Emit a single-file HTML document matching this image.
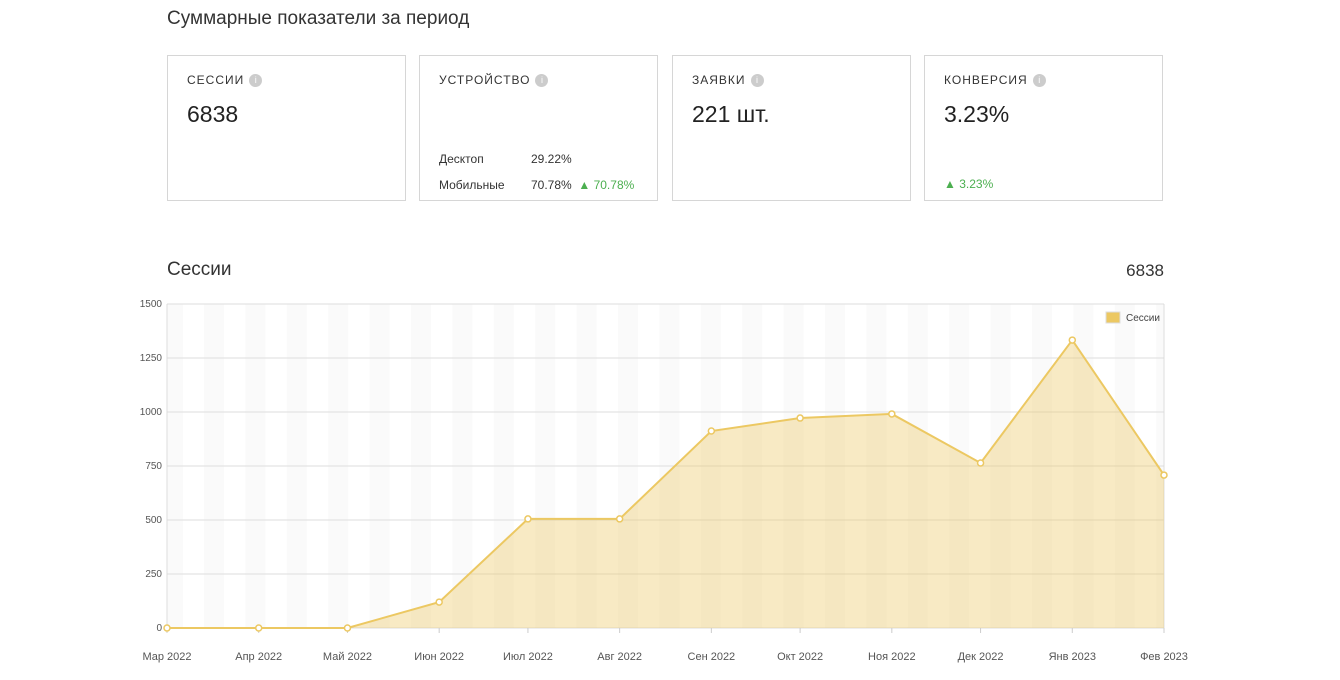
<!DOCTYPE html>
<html><head><meta charset="utf-8"><style>
body{margin:0;width:1340px;height:680px;background:#fff;font-family:"Liberation Sans",sans-serif;color:#222;position:relative;overflow:hidden}
.abs{position:absolute}
.card{position:absolute;top:55px;width:239px;height:146px;border:1px solid #d6d6d6;box-sizing:border-box}
.lbl{position:absolute;left:19px;top:17px;font-size:12px;letter-spacing:1px;color:#333}
.info{display:inline-block;width:13px;height:13px;border-radius:50%;background:#ccc;color:#fff;font-size:9px;text-align:center;line-height:13px;margin-left:5px;vertical-align:1px;letter-spacing:0}
.val{position:absolute;left:19px;top:45px;font-size:23px;color:#222}
.row{position:absolute;left:19px;font-size:12px;color:#333}
.green{color:#4caf50}
</style></head><body>
<div class="abs" style="left:167px;top:8px;font-size:19px;color:#333">Суммарные показатели за период</div>
<div class="card" style="left:167px"><div class="lbl">СЕССИИ<span class="info">i</span></div><div class="val">6838</div></div>
<div class="card" style="left:419px"><div class="lbl">УСТРОЙСТВО<span class="info">i</span></div>
<div class="row" style="top:96px">Десктоп</div><div class="row" style="top:96px;left:111px">29.22%</div>
<div class="row" style="top:122px">Мобильные</div><div class="row" style="top:122px;left:111px">70.78% &nbsp;<span class="green">▲ 70.78%</span></div></div>
<div class="card" style="left:672px"><div class="lbl">ЗАЯВКИ<span class="info">i</span></div><div class="val">221 шт.</div></div>
<div class="card" style="left:924px"><div class="lbl">КОНВЕРСИЯ<span class="info">i</span></div><div class="val">3.23%</div><div class="row green" style="top:121px">▲ 3.23%</div></div>
<div class="abs" style="left:167px;top:259px;font-size:19px;color:#333">Сессии</div>
<div class="abs" style="left:1100px;width:64px;text-align:right;top:261px;font-size:17px;color:#333">6838</div>
<svg id="chart" class="abs" style="left:0;top:0" width="1340" height="680"></svg>
<script>
const categories=["Мар 2022","Апр 2022","Май 2022","Июн 2022","Июл 2022","Авг 2022","Сен 2022","Окт 2022","Ноя 2022","Дек 2022","Янв 2023","Фев 2023"];
const dates=["2022-03-01","2022-04-01","2022-05-01","2022-06-01","2022-07-01","2022-08-01","2022-09-01","2022-10-01","2022-11-01","2022-12-01","2023-01-01","2023-02-01"];
const sessions=[0,0,0,120,505,505,912,972,991,764,1333,708];
const yTicks=[0,250,500,750,1000,1250,1500];
const svg=document.getElementById('chart');const NS='http://www.w3.org/2000/svg';
const L=167,R=1164,T=304,B=628,yMax=1500;
const t0=Date.parse(dates[0]),t1=Date.parse(dates[dates.length-1]);
const x=d=>L+(Date.parse(d)-t0)/(t1-t0)*(R-L);
const y=v=>B-v/yMax*(B-T);
function mk(tag,a,name,txt){const e=document.createElementNS(NS,tag);for(const k in a)e.setAttribute(k,a[k]);


if(txt!==undefined)e.textContent=txt;svg.appendChild(e);return e;}
mk('rect',{x:L,y:T,width:16,height:B-T,fill:'#fafafa'},'bg-stripe');
for(let s=204;s<R;s+=41.4)mk('rect',{x:s,y:T,width:Math.min(20,R-s),height:B-T,fill:'#fafafa'},'bg-stripe');
yTicks.forEach(v=>{mk('line',{x1:L,x2:R,y1:y(v),y2:y(v),stroke:'#ddd'},'gridline');
mk('text',{x:L-5,y:y(v)+3,'text-anchor':'end','font-size':10,fill:'#555'},'y-tick-label',v);});
mk('line',{x1:L,x2:L,y1:T,y2:B,stroke:'#ddd'},'y-axis');
mk('line',{x1:R,x2:R,y1:T,y2:B,stroke:'#ddd'},'right-border');
let pts=sessions.map((v,i)=>x(dates[i])+','+y(v));
mk('polygon',{points:x(dates[0])+','+B+' '+pts.join(' ')+' '+x(dates[dates.length-1])+','+B,fill:'rgba(236,200,100,0.38)'},'sessions-area');
mk('polyline',{points:pts.join(' '),fill:'none',stroke:'#ecc862','stroke-width':2},'sessions-line');
categories.forEach((c,i)=>{const xx=x(dates[i]);
mk('line',{x1:xx,x2:xx,y1:B,y2:B+5,stroke:'#ccc'},'x-tick');
mk('text',{x:xx,y:B+32,'text-anchor':'middle','font-size':11,fill:'#555'},'x-tick-label',c);
mk('circle',{cx:xx,cy:y(sessions[i]),r:3,fill:'#fff',stroke:'#ecc862','stroke-width':1.5},'sessions-point');});
mk('rect',{x:1106,y:312,width:14,height:11,fill:'#ecc862',stroke:'#ddd'},'legend-swatch');
mk('text',{x:1126,y:321,'font-size':10,fill:'#444'},'legend-label','Сессии');
</script>
</body></html>
